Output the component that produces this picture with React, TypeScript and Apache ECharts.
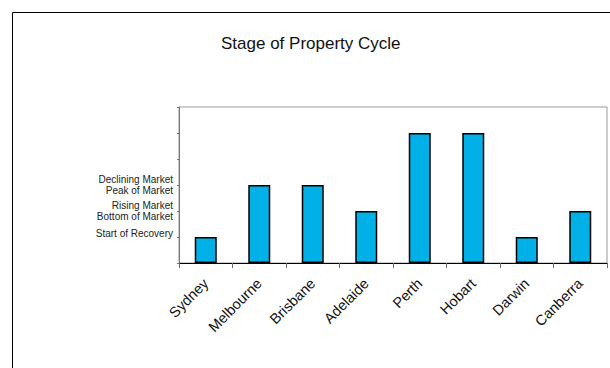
import React, { useEffect, useRef } from "react";
import * as echarts from "echarts";

const cities = ["Sydney", "Melbourne", "Brisbane", "Adelaide", "Perth", "Hobart", "Darwin", "Canberra"];
const stages = [1, 3, 3, 2, 5, 5, 1, 2];
const stageLabels: Record<number, string> = {
  1: "{s|Start of Recovery}",
  2: "Rising Market\nBottom of Market",
  3: "Declining Market\nPeak of Market",
};

export default function App() {
  const ref = useRef<HTMLDivElement>(null);
  useEffect(() => {
    const chart = echarts.init(ref.current!, null, { renderer: "svg" });
    chart.setOption({
      animation: false,
      backgroundColor: "#fff",
      title: {
        text: "Stage of Property Cycle",
        left: 216,
        top: 30,
        textStyle: { fontFamily: "Liberation Sans, Arial", fontSize: 17, fontWeight: "normal", color: "#111" },
      },
      graphic: [
        {
          type: "rect",
          shape: { x: 12.5, y: 12.5, width: 700, height: 500 },
          style: { fill: "none", stroke: "#000", lineWidth: 1 },
          silent: true,
        },
      ],
      grid: { left: 179, top: 107, right: 3, bottom: 105, show: true, borderColor: "#999", borderWidth: 1 },
      xAxis: {
        type: "category",
        data: cities,
        boundaryGap: true,
        axisLine: { lineStyle: { color: "#000", width: 1 } },
        axisTick: { show: true, length: 5, lineStyle: { color: "#666" } },
        axisLabel: {
          rotate: 45,
          interval: 0,
          margin: 18,
          fontFamily: "Liberation Sans, Arial",
          fontSize: 14.5,
          color: "#111",
        },
      },
      yAxis: {
        type: "value",
        min: 0,
        max: 6,
        interval: 1,
        splitLine: { show: false },
        axisLine: { show: true, lineStyle: { color: "#777" } },
        axisTick: { show: true, length: 2, lineStyle: { color: "#777" } },
        axisLabel: {
          margin: 6,
          fontFamily: "Liberation Sans, Arial",
          fontSize: 10,
          lineHeight: 11,
          color: "#222",
          formatter: (v: number) => stageLabels[v] || "",
          rich: { s: { fontFamily: "Liberation Sans, Arial", fontSize: 10, color: "#222", padding: [0, 0, 8, 0] } },
        },
      },
      series: [
        {
          type: "bar",
          data: stages,
          barWidth: 22,
          itemStyle: { color: "#00b0e6", borderColor: "#000", borderWidth: 1.5 },
        },
      ],
    });
    return () => chart.dispose();
  }, []);
  return <div ref={ref} style={{ position: "fixed", left: 0, top: 0, width: 610, height: 368 }} />;
}
